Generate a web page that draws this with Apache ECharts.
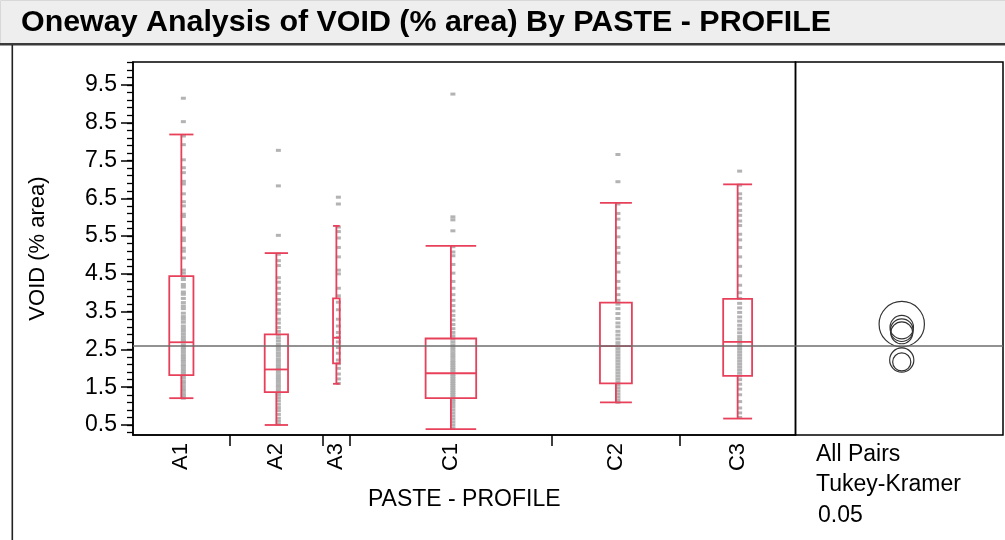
<!DOCTYPE html>
<html><head><meta charset="utf-8">
<script src="https://cdn.jsdelivr.net/npm/echarts@6/dist/echarts.min.js"></script>
<style>html,body{margin:0;padding:0;background:#fff}#c{width:1005px;height:540px}</style>
</head><body><div id="c"></div>
<script>
// ---------- DATA ----------
const categories = ['A1', 'A2', 'A3', 'C1', 'C2', 'C3'];
// relative group sizes (JMP draws each group's axis width proportional to n)
const groupWeights = [96.7, 93.3, 26.7, 202.3, 127.7, 115.7];
const lowerWhisker = [1.21, 0.50, 1.59, 0.39, 1.10, 0.67];
const quartile1    = [1.82, 1.37, 2.13, 1.21, 1.60, 1.80];
const medians      = [2.69, 1.97, 2.81, 1.87, 2.59, 2.70];
const quartile3    = [4.44, 2.90, 3.85, 2.79, 3.74, 3.84];
const upperWhisker = [8.19, 5.05, 5.77, 5.24, 6.38, 6.87];

const pointsA1 = [9.15, 8.53, 8.15, 7.92, 7.52, 7.31, 7.18, 6.95, 6.88, 6.62, 6.41, 6.30, 6.08, 6.02, 5.72, 5.66, 5.45, 5.38, 5.18, 5.10, 4.92, 4.60, 4.52, 4.41, 4.35, 4.22, 4.15, 4.02, 3.96, 3.85, 3.74, 3.65, 3.58, 3.46, 3.37, 3.30, 3.22, 3.12, 3.05, 2.98, 2.90, 2.82, 2.75, 2.70, 2.62, 2.55, 2.50, 2.43, 2.36, 2.30, 2.24, 2.18, 2.10, 2.05, 1.98, 1.92, 1.86, 1.80, 1.74, 1.66, 1.60, 1.52, 1.45, 1.40, 1.33, 1.27, 1.21];
const pointsA2 = [7.77, 6.83, 5.52, 5.02, 4.85, 4.72, 4.40, 4.28, 4.12, 3.98, 3.82, 3.70, 3.55, 3.46, 3.30, 3.20, 3.08, 2.98, 2.88, 2.80, 2.72, 2.63, 2.55, 2.48, 2.40, 2.33, 2.25, 2.18, 2.10, 2.03, 1.97, 1.90, 1.83, 1.76, 1.70, 1.63, 1.56, 1.50, 1.43, 1.37, 1.30, 1.22, 1.14, 1.05, 0.96, 0.88, 0.78, 0.68, 0.60, 0.52];
const pointsA3 = [6.53, 6.35, 5.74, 5.62, 5.45, 5.20, 4.95, 4.60, 4.50, 4.12, 3.92, 3.75, 3.55, 3.30, 3.12, 2.95, 2.82, 2.70, 2.55, 2.40, 2.22, 2.12, 2.00, 1.85, 1.72, 1.60];
const pointsC1 = [9.26, 6.01, 5.93, 5.64, 5.22, 5.08, 4.98, 4.75, 4.52, 4.30, 4.12, 3.95, 3.80, 3.66, 3.52, 3.40, 3.28, 3.16, 3.05, 2.95, 2.86, 2.78, 2.70, 2.62, 2.55, 2.48, 2.41, 2.34, 2.27, 2.20, 2.14, 2.08, 2.02, 1.96, 1.90, 1.84, 1.78, 1.72, 1.66, 1.60, 1.54, 1.48, 1.42, 1.36, 1.30, 1.24, 1.18, 1.12, 1.05, 0.98, 0.90, 0.82, 0.74, 0.66, 0.58, 0.50, 0.42];
const pointsC2 = [7.66, 6.94, 6.35, 6.10, 5.95, 5.72, 5.48, 5.20, 5.05, 4.80, 4.55, 4.30, 4.12, 3.95, 3.80, 3.70, 3.58, 3.45, 3.32, 3.20, 3.10, 2.98, 2.88, 2.78, 2.68, 2.60, 2.52, 2.44, 2.36, 2.28, 2.20, 2.12, 2.04, 1.96, 1.88, 1.80, 1.72, 1.64, 1.56, 1.48, 1.40, 1.32, 1.24, 1.16, 1.10];
const pointsC3 = [7.22, 6.85, 6.62, 6.50, 6.35, 6.18, 6.05, 5.90, 5.78, 5.55, 5.40, 5.20, 4.95, 4.70, 4.45, 4.20, 4.00, 3.85, 3.72, 3.60, 3.48, 3.36, 3.25, 3.14, 3.04, 2.94, 2.84, 2.76, 2.68, 2.60, 2.52, 2.44, 2.36, 2.28, 2.20, 2.12, 2.04, 1.96, 1.88, 1.80, 1.70, 1.58, 1.45, 1.30, 1.12, 0.95, 0.82, 0.70];
const groupPoints = [pointsA1, pointsA2, pointsA3, pointsC1, pointsC2, pointsC3];

const grandMean = 2.59;
// Tukey-Kramer comparison circles: centre = group mean, radius in y units
const circleMeans = [3.09, 2.22, 3.17, 2.17, 2.94, 3.01];
const circleRadii = [0.31, 0.32, 0.60, 0.24, 0.29, 0.30];

const yTickLabels = [0.5, 1.5, 2.5, 3.5, 4.5, 5.5, 6.5, 7.5, 8.5, 9.5];
const yMin = 0.235, yMax = 10.109;

// ---------- LAYOUT HELPERS ----------
const total = groupWeights.reduce((a, b) => a + b, 0);
const starts = [];
let acc = 0;
groupWeights.forEach(w => { starts.push(acc); acc += w; });
const centers = groupWeights.map((w, i) => starts[i] + w / 2);
const boundaries = starts.slice(1);
const minorTicks = [];
for (let v = 0.3; v < yMax; v += 0.2) minorTicks.push(+v.toFixed(2));

const RED = '#E8405A';
const BOX_FRAC = 0.25;
const FONT = '"Liberation Sans", Arial, sans-serif';

function boxRender(params, api) {
  const i = api.value(0);
  const cx = centers[i];
  const half = api.size([groupWeights[i] * BOX_FRAC, 0])[0] / 2;
  const pLo = api.coord([cx, api.value(1)]);
  const pA = api.coord([cx, api.value(2)]);
  const pM = api.coord([cx, api.value(3)]);
  const pB = api.coord([cx, api.value(4)]);
  const pHi = api.coord([cx, api.value(5)]);
  const x = pLo[0];
  const st = { stroke: RED, lineWidth: 1.8, fill: null };
  const ln = (x1, y1, x2, y2) => ({ type: 'line', shape: { x1, y1, x2, y2 }, style: st });
  return {
    type: 'group', children: [
      { type: 'rect', shape: { x: x - half, y: pB[1], width: 2 * half, height: pA[1] - pB[1] }, style: { stroke: RED, lineWidth: 1.8, fill: 'none' } },
      ln(x - half, pM[1], x + half, pM[1]),
      ln(x, pB[1], x, pHi[1]),
      ln(x, pA[1], x, pLo[1]),
      ln(x - half, pHi[1], x + half, pHi[1]),
      ln(x - half, pLo[1], x + half, pLo[1])
    ]
  };
}

function circleRender(params, api) {
  const c = api.coord([0.5, api.value(1)]);
  const r = api.size([0, api.value(2)])[1];
  return { type: 'circle', shape: { cx: c[0] + 2.5, cy: c[1], r }, style: { stroke: '#333', fill: 'none', lineWidth: 1.2 } };
}

const pointData = [];
groupPoints.forEach((arr, i) => arr.forEach(v => pointData.push([centers[i], v])));

const chart = echarts.init(document.getElementById('c'), null, { renderer: 'canvas' });
chart.setOption({
  animation: false,
  backgroundColor: '#fff',
  textStyle: { fontFamily: FONT },
  graphic: [
    { type: 'rect', left: 0, top: 0, shape: { width: 1005, height: 44 }, style: { fill: '#eeeeee', stroke: '#d8d8d8', lineWidth: 1 }, z: -10 },
    { type: 'rect', left: 0, top: 43, shape: { width: 1005, height: 2.5 }, style: { fill: '#3a3a3a' }, z: -9 },
    { type: 'rect', left: 11.5, top: 45, shape: { width: 1.6, height: 495 }, style: { fill: '#222' }, z: -9 },
    { type: 'text', left: 21, top: 8, style: { text: 'Oneway Analysis of VOID (% area) By PASTE - PROFILE', font: 'bold 30.4px "Liberation Sans", Arial, sans-serif', fill: '#000' } },
    { type: 'text', left: 816, top: 443, style: { text: 'All Pairs', font: '23px ' + FONT, fill: '#000' } },
    { type: 'text', left: 816, top: 473, style: { text: 'Tukey-Kramer', font: '23px ' + FONT, fill: '#000' } },
    { type: 'text', left: 818, top: 504, style: { text: '0.05', font: '23px ' + FONT, fill: '#000' } }
  ],
  grid: [
    { left: 133, top: 62, width: 662.5, height: 373, show: true, borderColor: '#000', borderWidth: 1.5, backgroundColor: 'transparent' },
    { left: 795.5, top: 62, width: 207.5, height: 373, show: true, borderColor: '#000', borderWidth: 1.5, backgroundColor: 'transparent' }
  ],
  xAxis: [
    {
      gridIndex: 0, type: 'value', min: 0, max: total,
      axisLine: { lineStyle: { color: '#000', width: 1.5 } },
      axisTick: { customValues: boundaries, length: 11, lineStyle: { color: '#000', width: 1.5 } },
      axisLabel: {
        customValues: centers, rotate: 90, margin: 8, fontSize: 22, color: '#000', fontFamily: FONT,
        formatter: v => { const k = centers.findIndex(c => Math.abs(c - v) < 1e-6); return k >= 0 ? categories[k] : ''; }
      },
      splitLine: { show: false },
      name: 'PASTE - PROFILE', nameLocation: 'middle', nameGap: 53,
      nameTextStyle: { fontSize: 23, color: '#000', fontFamily: FONT }
    },
    { gridIndex: 1, type: 'value', min: 0, max: 1, show: false }
  ],
  yAxis: [
    {
      gridIndex: 0, type: 'value', min: yMin, max: yMax,
      axisLine: { show: true, lineStyle: { color: '#000', width: 1.5 } },
      axisTick: { show: true, customValues: yTickLabels, length: 12, lineStyle: { color: '#000', width: 1.5 } },
      axisLabel: { customValues: yTickLabels, margin: 16, fontSize: 23, color: '#000', fontFamily: FONT, formatter: v => v.toFixed(1) },
      splitLine: { show: false },
      name: 'VOID (% area)', nameLocation: 'middle', nameGap: 84,
      nameTextStyle: { fontSize: 22, color: '#000', fontFamily: FONT }
    },
    {
      gridIndex: 0, type: 'value', min: yMin, max: yMax, position: 'left',
      axisLine: { show: false },
      axisTick: { show: true, customValues: minorTicks, length: 6, lineStyle: { color: '#000', width: 1.3 } },
      axisLabel: { show: false }, splitLine: { show: false }
    },
    { gridIndex: 1, type: 'value', min: yMin, max: yMax, show: false }
  ],
  series: [
    {
      type: 'scatter', xAxisIndex: 0, yAxisIndex: 0, data: pointData,
      symbol: 'rect', symbolSize: [5, 3], symbolOffset: [2, 0],
      itemStyle: { color: '#ababab', opacity: 0.9 }, z: 1, silent: true,
      markLine: { silent: true, symbol: ['none', 'none'], label: { show: false }, lineStyle: { color: '#6e6e6e', width: 1.5, type: 'solid' }, data: [{ yAxis: grandMean }] }
    },
    {
      type: 'custom', xAxisIndex: 0, yAxisIndex: 0, renderItem: boxRender, z: 3, silent: true,
      data: categories.map((c, i) => [i, lowerWhisker[i], quartile1[i], medians[i], quartile3[i], upperWhisker[i]])
    },
    {
      type: 'custom', xAxisIndex: 1, yAxisIndex: 2, renderItem: circleRender, z: 3, silent: true,
      data: circleMeans.map((m, i) => [0.5, m, circleRadii[i]]),
      markLine: { silent: true, symbol: ['none', 'none'], label: { show: false }, lineStyle: { color: '#6e6e6e', width: 1.5, type: 'solid' }, data: [{ yAxis: grandMean }] }
    }
  ]
});
</script></body></html>
